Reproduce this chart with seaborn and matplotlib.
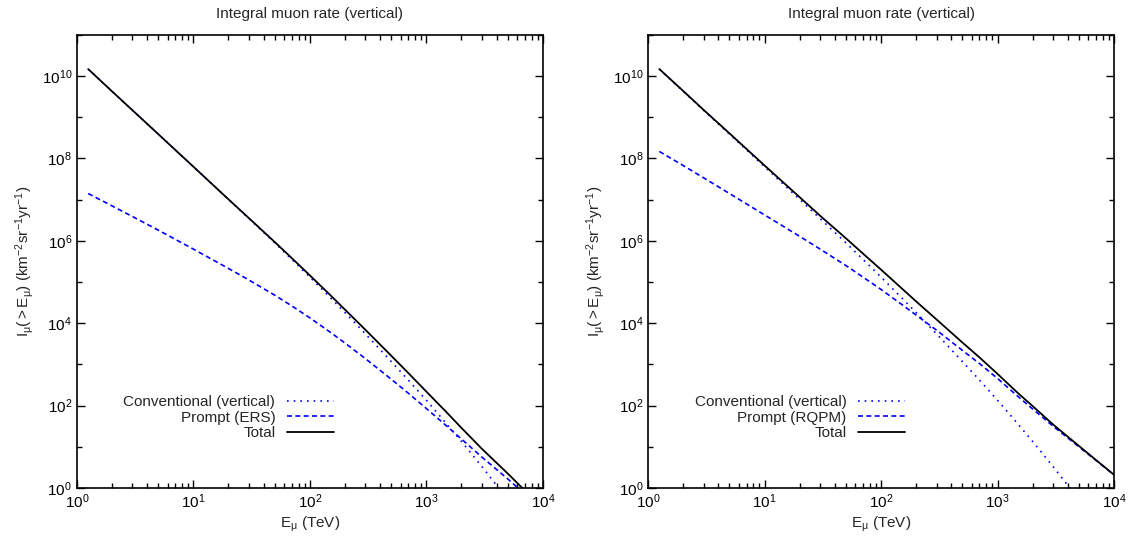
import numpy as np
import pandas as pd
import seaborn as sns
import matplotlib.pyplot as plt
from matplotlib.ticker import FixedLocator, LogLocator, NullFormatter


# muon energy (TeV) where the curves were read
energy = [1.25, 2, 3, 5, 10, 20, 30, 50, 70, 100, 150, 200, 300, 500, 700,
          1000, 1500, 2000, 3000, 5000, 7000, 10000]

# conventional flux (same in both panels)
conv_energy = energy[:19] + [4000, 5000]
conv_rate = [1.48e10, 4.27e9, 1.48e9, 3.89e8, 6.31e7, 1.02e7, 3.47e6, 8.91e5,
             3.55e5, 1.32e5, 4.17e4, 1.82e4, 5.50e3, 1.17e3, 417, 135, 35.5,
             13.5, 3.31, 1.17, 0.52]

# left panel: ERS prompt model
ers_energy = energy[:21]
ers_prompt = [1.41e7, 7.08e6, 3.89e6, 1.82e6, 6.31e5, 2.14e5, 1.12e5, 4.79e4,
              2.63e4, 1.35e4, 6.03e3, 3.31e3, 1.38e3, 437, 200, 85.1, 31.6,
              15.5, 5.62, 1.66, 0.71]
ers_total = [1.48e10, 4.27e9, 1.48e9, 3.89e8, 6.31e7, 1.02e7, 3.55e6, 9.33e5,
             3.80e5, 1.45e5, 4.79e4, 2.14e4, 6.92e3, 1.62e3, 617, 219, 67.6,
             28.8, 8.91, 2.24, 0.87]

# right panel: RQPM prompt model
rqpm_energy = energy
rqpm_prompt = [1.48e8, 6.76e7, 3.39e7, 1.41e7, 4.27e6, 1.29e6, 6.31e5, 2.51e5,
               1.32e5, 6.61e4, 2.88e4, 1.58e4, 6.76e3, 2.19e3, 1.05e3, 457, 166,
               83.2, 31.6, 10.0, 4.68, 2.09]
rqpm_total = [1.48e10, 4.37e9, 1.51e9, 4.07e8, 6.76e7, 1.15e7, 4.07e6, 1.15e6,
              4.90e5, 2.00e5, 7.08e4, 3.39e4, 1.23e4, 3.39e3, 1.48e3, 589, 200,
              97.7, 34.7, 10.5, 4.79, 2.09]

panels = [("Prompt (ERS)", ers_energy, ers_prompt, ers_total),
          ("Prompt (RQPM)", rqpm_energy, rqpm_prompt, rqpm_total)]

x_major = [1, 10, 100, 1000, 10000]
y_major = [1, 1e2, 1e4, 1e6, 1e8, 1e10]
y_minor = [10, 1e3, 1e5, 1e7, 1e9, 1e11]


sns.set_theme(style="ticks")
plt.rcParams["font.family"] = ["Liberation Sans", "DejaVu Sans"]
plt.rcParams["mathtext.fontset"] = "custom"
plt.rcParams["mathtext.rm"] = "Liberation Sans"
plt.rcParams["mathtext.it"] = "Liberation Sans"
plt.rcParams["mathtext.bf"] = "Liberation Sans:bold"

fig = plt.figure(figsize=(11.31, 5.42), dpi=100)
lefts = [0.068, 0.573]

for (prompt_label, p_energy, prompt, total), left in zip(panels, lefts):
    ax = fig.add_axes([left, 0.0996, 0.412, 0.836])

    sns.lineplot(x=conv_energy, y=conv_rate, ax=ax, color="#0000ff", lw=1.2,
                 linestyle=(0, (1, 3)), label="Conventional (vertical)",
                 estimator=None, sort=False)
    sns.lineplot(x=p_energy, y=prompt, ax=ax, color="#0000ff", lw=1.2,
                 linestyle=(0, (3, 2)), label=prompt_label,
                 estimator=None, sort=False)
    sns.lineplot(x=p_energy, y=total, ax=ax, color="black", lw=1.3,
                 label="Total", estimator=None, sort=False)

    ax.set(xscale="log", yscale="log", xlim=(1, 1e4), ylim=(1, 1e11))
    ax.xaxis.set_major_locator(FixedLocator(x_major))
    ax.xaxis.set_minor_locator(LogLocator(base=10, subs=np.arange(2, 10), numticks=20))
    ax.xaxis.set_minor_formatter(NullFormatter())
    ax.yaxis.set_major_locator(FixedLocator(y_major))
    ax.yaxis.set_minor_locator(FixedLocator(y_minor))
    ax.yaxis.set_minor_formatter(NullFormatter())

    ax.tick_params(which="both", direction="in", top=True, right=True,
                   colors="black", labelsize=11, width=1)
    ax.tick_params(which="major", length=6)
    ax.tick_params(which="minor", length=3.5)
    for s in ax.spines.values():
        s.set_linewidth(1.2)
        s.set_color("black")

    ax.set_title("Integral muon rate (vertical)", fontsize=11, pad=12)
    ax.set_xlabel(r"$\mathregular{E_{\mu}}$ (TeV)", fontsize=11, labelpad=2)
    ax.set_ylabel(r"$\mathregular{I_{\mu}(>E_{\mu})\ (km^{-2}sr^{-1}yr^{-1})}$",
                  fontsize=11, labelpad=4)

    leg = ax.legend(loc="center right", bbox_to_anchor=(0.565, 0.155),
                    frameon=False, markerfirst=False, fontsize=11,
                    handlelength=3.1, handletextpad=0.75, labelspacing=0.1,
                    borderaxespad=0)
    for col in leg._legend_handle_box.get_children():
        col.align = "right"

plt.savefig("out.png", dpi=100)
